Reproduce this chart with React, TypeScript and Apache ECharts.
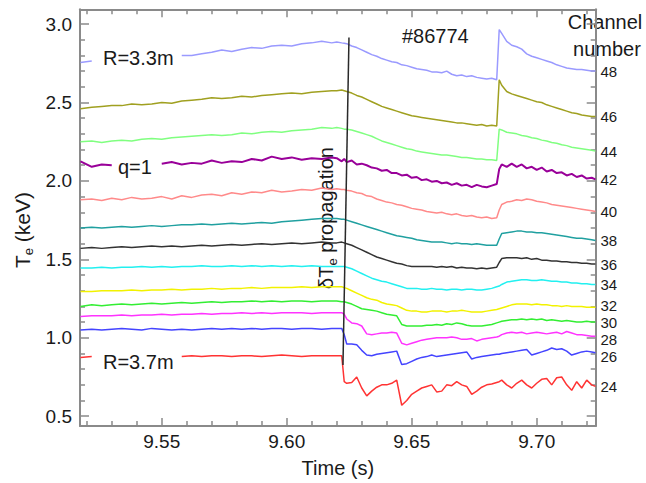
import React, { useEffect, useRef } from "react";
import * as echarts from "echarts";

// Time grid (s)
const time = [
  9.5175, 9.522, 9.526, 9.530, 9.534, 9.538, 9.542, 9.546, 9.550, 9.554, 9.558, 9.562, 9.566,
  9.570, 9.574, 9.578, 9.582, 9.586, 9.590, 9.594, 9.598, 9.602, 9.606, 9.610, 9.614, 9.618,
  9.620, 9.622, 9.623, 9.624, 9.626, 9.628, 9.630, 9.632, 9.634, 9.636,
  9.638, 9.640, 9.642, 9.644, 9.646, 9.648, 9.650, 9.652, 9.654, 9.656,
  9.658, 9.660, 9.662, 9.664, 9.666, 9.668, 9.670, 9.672, 9.674, 9.676,
  9.678, 9.680, 9.682, 9.684, 9.685, 9.686, 9.688, 9.690, 9.692, 9.694,
  9.696, 9.698, 9.700, 9.702, 9.704, 9.706, 9.708, 9.710, 9.712, 9.714,
  9.716, 9.718, 9.720, 9.722, 9.7235,
];

// Te (keV) per ECE channel
const ch48 = [
  2.755, 2.765, null, null, null, null, null, null, null, null, 2.80, 2.80, 2.81,
  2.82, 2.835, 2.825, 2.84, 2.85, 2.845, 2.86, 2.865, 2.86, 2.875, 2.88, 2.89, 2.88,
  2.885, 2.88, 2.878, 2.875, 2.86, 2.85, 2.835, 2.82, 2.805, 2.795,
  2.78, 2.77, 2.76, 2.755, 2.74, 2.735, 2.725, 2.715, 2.71, 2.705,
  2.695, 2.695, 2.69, 2.70, 2.68, 2.67, 2.675, 2.665, 2.67, 2.66,
  2.655, 2.65, 2.655, 2.645, 2.965, 2.94, 2.89, 2.865, 2.855, 2.84,
  2.81, 2.795, 2.785, 2.775, 2.765, 2.755, 2.74, 2.73, 2.72, 2.715,
  2.71, 2.71, 2.705, 2.70, 2.70,
];
const ch46 = [
  2.46, 2.47, 2.475, 2.48, 2.48, 2.49, 2.485, 2.49, 2.50, 2.495, 2.51, 2.515, 2.52,
  2.53, 2.525, 2.53, 2.54, 2.535, 2.545, 2.55, 2.555, 2.56, 2.555, 2.565, 2.57, 2.575,
  2.575, 2.58, 2.575, 2.57, 2.56, 2.545, 2.535, 2.52, 2.505, 2.49,
  2.475, 2.465, 2.455, 2.445, 2.435, 2.425, 2.415, 2.41, 2.405, 2.40,
  2.395, 2.39, 2.385, 2.38, 2.375, 2.37, 2.37, 2.365, 2.36, 2.355,
  2.36, 2.35, 2.355, 2.35, 2.645, 2.61, 2.57, 2.555, 2.545, 2.535,
  2.525, 2.515, 2.505, 2.50, 2.485, 2.475, 2.465, 2.455, 2.445, 2.435,
  2.43, 2.42, 2.415, 2.41, 2.41,
];
const ch44 = [
  2.25, 2.255, 2.245, 2.255, 2.26, 2.255, 2.265, 2.27, 2.265, 2.275, 2.28, 2.285, 2.29,
  2.295, 2.29, 2.295, 2.305, 2.30, 2.31, 2.315, 2.31, 2.32, 2.325, 2.33, 2.34, 2.335,
  2.34, 2.335, 2.33, 2.33, 2.325, 2.315, 2.305, 2.295, 2.285, 2.27,
  2.255, 2.245, 2.235, 2.225, 2.215, 2.205, 2.20, 2.19, 2.185, 2.18,
  2.175, 2.17, 2.165, 2.165, 2.16, 2.155, 2.15, 2.15, 2.145, 2.14,
  2.14, 2.135, 2.135, 2.13, 2.33, 2.325, 2.31, 2.305, 2.30, 2.29,
  2.285, 2.275, 2.27, 2.26, 2.255, 2.245, 2.24, 2.23, 2.225, 2.215,
  2.21, 2.205, 2.20, 2.195, 2.19,
];
const ch42 = [
  2.125, 2.09, 2.105, 2.10, null, null, null, null, 2.11, 2.12, 2.105, 2.115, 2.11,
  2.13, 2.115, 2.125, 2.12, 2.14, 2.13, 2.155, 2.14, 2.15, 2.135, 2.145, 2.14, 2.15,
  2.145, 2.125, 2.14, 2.12, 2.13, 2.105, 2.11, 2.10, 2.085, 2.08,
  2.065, 2.07, 2.05, 2.05, 2.035, 2.04, 2.02, 2.025, 2.005, 2.01,
  1.995, 2.00, 1.985, 1.99, 1.975, 1.985, 1.97, 1.975, 1.96, 1.975,
  1.965, 1.96, 1.97, 1.98, 2.075, 2.105, 2.09, 2.11, 2.09, 2.105,
  2.08, 2.09, 2.07, 2.085, 2.06, 2.07, 2.05, 2.055, 2.035, 2.045,
  2.025, 2.035, 2.015, 2.02, 2.01,
];
const ch40 = [
  1.88, 1.885, 1.875, 1.89, 1.88, 1.895, 1.885, 1.89, 1.90, 1.885, 1.905, 1.895, 1.91,
  1.915, 1.905, 1.925, 1.915, 1.93, 1.925, 1.94, 1.93, 1.935, 1.945, 1.94, 1.955, 1.945,
  1.95, 1.945, 1.945, 1.94, 1.935, 1.925, 1.92, 1.905, 1.90, 1.885,
  1.875, 1.865, 1.86, 1.85, 1.845, 1.835, 1.825, 1.82, 1.815, 1.805,
  1.80, 1.795, 1.80, 1.79, 1.785, 1.79, 1.78, 1.775, 1.78, 1.77,
  1.765, 1.77, 1.76, 1.765, 1.815, 1.85, 1.865, 1.87, 1.88, 1.875,
  1.885, 1.88, 1.87, 1.865, 1.86, 1.85, 1.845, 1.84, 1.835, 1.83,
  1.825, 1.82, 1.815, 1.81, 1.805,
];
const ch38 = [
  1.70, 1.705, 1.70, 1.705, 1.71, 1.705, 1.71, 1.715, 1.71, 1.715, 1.72, 1.72, 1.725,
  1.72, 1.725, 1.73, 1.725, 1.73, 1.735, 1.73, 1.74, 1.745, 1.75, 1.755, 1.76, 1.76,
  1.76, 1.755, 1.755, 1.75, 1.74, 1.73, 1.72, 1.71, 1.70, 1.69,
  1.68, 1.67, 1.66, 1.65, 1.645, 1.64, 1.635, 1.625, 1.62, 1.615,
  1.61, 1.61, 1.61, 1.605, 1.60, 1.605, 1.60, 1.60, 1.595, 1.60,
  1.595, 1.59, 1.59, 1.59, 1.63, 1.665, 1.67, 1.675, 1.68, 1.68,
  1.675, 1.675, 1.67, 1.67, 1.665, 1.66, 1.655, 1.65, 1.645, 1.64,
  1.635, 1.635, 1.63, 1.625, 1.62,
];
const ch36 = [
  1.57, 1.575, 1.57, 1.575, 1.58, 1.575, 1.58, 1.585, 1.58, 1.585, 1.58, 1.585, 1.59,
  1.585, 1.59, 1.595, 1.59, 1.595, 1.60, 1.595, 1.60, 1.605, 1.60, 1.605, 1.61, 1.605,
  1.605, 1.61, 1.605, 1.60, 1.59, 1.575, 1.56, 1.545, 1.53, 1.515,
  1.505, 1.495, 1.485, 1.475, 1.47, 1.46, 1.455, 1.455, 1.455, 1.455,
  1.455, 1.45, 1.455, 1.45, 1.455, 1.445, 1.45, 1.445, 1.445, 1.44,
  1.445, 1.44, 1.445, 1.45, 1.48, 1.505, 1.51, 1.51, 1.51, 1.505,
  1.51, 1.50, 1.505, 1.495, 1.495, 1.49, 1.49, 1.485, 1.485, 1.48,
  1.48, 1.475, 1.475, 1.47, 1.47,
];
const ch34 = [
  1.445, 1.445, 1.45, 1.445, 1.45, 1.45, 1.455, 1.45, 1.455, 1.45, 1.455, 1.455, 1.46,
  1.455, 1.455, 1.46, 1.455, 1.46, 1.455, 1.46, 1.455, 1.46, 1.455, 1.46, 1.455, 1.455,
  1.455, 1.455, 1.455, 1.45, 1.44, 1.425, 1.41, 1.395, 1.38, 1.37,
  1.36, 1.355, 1.345, 1.335, 1.325, 1.315, 1.315, 1.315, 1.31, 1.31,
  1.315, 1.31, 1.31, 1.305, 1.31, 1.31, 1.305, 1.31, 1.31, 1.305,
  1.305, 1.31, 1.315, 1.325, 1.33, 1.34, 1.355, 1.36, 1.365, 1.37,
  1.37, 1.365, 1.365, 1.37, 1.365, 1.36, 1.36, 1.355, 1.355, 1.35,
  1.35, 1.345, 1.345, 1.34, 1.34,
];
const ch32 = [
  1.295, 1.295, 1.30, 1.30, 1.30, 1.305, 1.30, 1.305, 1.305, 1.31, 1.305, 1.31, 1.31,
  1.315, 1.31, 1.315, 1.315, 1.32, 1.315, 1.32, 1.32, 1.32, 1.325, 1.32, 1.325, 1.325,
  1.325, 1.325, 1.32, 1.315, 1.30, 1.285, 1.27, 1.255, 1.245, 1.24,
  1.225, 1.215, 1.21, 1.205, 1.19, 1.175, 1.17, 1.17, 1.165, 1.165,
  1.17, 1.17, 1.17, 1.165, 1.17, 1.17, 1.175, 1.17, 1.165, 1.165,
  1.165, 1.17, 1.175, 1.18, 1.185, 1.19, 1.20, 1.21, 1.215, 1.215,
  1.215, 1.21, 1.215, 1.21, 1.21, 1.205, 1.205, 1.20, 1.205, 1.20,
  1.20, 1.20, 1.195, 1.195, 1.195,
];
const ch30 = [
  1.20, 1.21, 1.205, 1.21, 1.215, 1.21, 1.215, 1.22, 1.215, 1.22, 1.225, 1.22, 1.225,
  1.23, 1.225, 1.23, 1.23, 1.235, 1.23, 1.235, 1.23, 1.235, 1.235, 1.23, 1.235, 1.235,
  1.235, 1.23, 1.23, 1.225, 1.215, 1.20, 1.185, 1.18, 1.175, 1.17,
  1.16, 1.15, 1.145, 1.14, 1.085, 1.075, 1.075, 1.075, 1.075, 1.08,
  1.08, 1.085, 1.08, 1.09, 1.085, 1.095, 1.09, 1.08, 1.075, 1.075,
  1.075, 1.08, 1.085, 1.095, 1.10, 1.105, 1.11, 1.115, 1.115, 1.12,
  1.115, 1.12, 1.115, 1.12, 1.11, 1.115, 1.11, 1.105, 1.11, 1.105,
  1.10, 1.10, 1.105, 1.10, 1.10,
];
const ch28 = [
  1.135, 1.14, 1.14, 1.14, 1.145, 1.14, 1.145, 1.145, 1.15, 1.145, 1.15, 1.15, 1.155,
  1.15, 1.155, 1.155, 1.16, 1.155, 1.16, 1.155, 1.16, 1.16, 1.16, 1.155, 1.16, 1.16,
  1.16, 1.16, 1.15, 1.12, 1.095, 1.09, 1.075, 1.025, 1.02, 1.025,
  1.03, 1.03, 1.035, 1.03, 0.965, 0.955, 0.965, 0.975, 0.985, 0.99,
  0.995, 1.00, 1.00, 1.00, 1.005, 1.00, 0.99, 0.99, 0.995, 0.98,
  0.99, 0.995, 1.00, 1.005, 1.01, 1.02, 1.03, 1.035, 1.03, 1.035,
  1.025, 1.03, 1.035, 1.03, 1.025, 1.03, 1.035, 1.025, 1.04, 1.03,
  1.02, 1.02, 1.015, 1.01, 1.01,
];
const ch26 = [
  1.05, 1.055, 1.05, 1.055, 1.06, 1.055, 1.05, 1.06, 1.055, 1.05, 1.055, 1.05, 1.055,
  1.06, 1.055, 1.06, 1.055, 1.06, 1.055, 1.06, 1.06, 1.055, 1.06, 1.06, 1.055, 1.06,
  1.06, 1.06, 1.02, 0.96, 0.96, 0.955, 0.92, 0.89, 0.885, 0.895,
  0.90, 0.905, 0.91, 0.915, 0.83, 0.835, 0.85, 0.865, 0.875, 0.88,
  0.89, 0.88, 0.885, 0.89, 0.895, 0.90, 0.905, 0.91, 0.865, 0.875,
  0.88, 0.885, 0.89, 0.895, 0.895, 0.90, 0.905, 0.91, 0.915, 0.92,
  0.925, 0.89, 0.90, 0.91, 0.92, 0.935, 0.925, 0.93, 0.915, 0.89,
  0.90, 0.91, 0.915, 0.91, 0.905,
];
const ch24 = [
  0.875, 0.88, null, null, null, null, null, null, null, null, 0.88, 0.885, 0.88,
  0.885, 0.885, 0.88, 0.885, 0.885, 0.88, 0.885, 0.89, 0.885, 0.88, 0.885, 0.885, 0.885,
  0.885, 0.885, 0.72, 0.71, 0.715, 0.75, 0.68, 0.63, 0.66, 0.685,
  0.70, 0.70, 0.71, 0.73, 0.57, 0.60, 0.64, 0.66, 0.68, 0.69,
  0.70, 0.655, 0.66, 0.70, 0.695, 0.72, 0.70, 0.69, 0.64, 0.66,
  0.685, 0.70, 0.705, 0.715, 0.72, 0.73, 0.70, 0.68, 0.71, 0.73,
  0.70, 0.68, 0.71, 0.735, 0.74, 0.70, 0.745, 0.75, 0.70, 0.665,
  0.72, 0.68, 0.73, 0.70, 0.69,
];

const channelNames = ["48", "46", "44", "42", "40", "38", "36", "34", "32", "30", "28", "26", "24"];
const channelData = [ch48, ch46, ch44, ch42, ch40, ch38, ch36, ch34, ch32, ch30, ch28, ch26, ch24];
const channelColors = [
  "#9a9aff", "#a0a020", "#80ff80", "#990099", "#ff8a8a", "#20a0a0", "#333333",
  "#22f0f0", "#f2f200", "#33ee33", "#ff33ff", "#4444ff", "#ff3333",
];
// vertical nudge of crowded end labels (px)
const labelNudge = [0, 0, 0, 0, 0, 0, 0, 0, -2, 0, 3, 4, 0];

// propagation front (time, Te)
const frontTime = [9.6249, 9.6225];
const frontTe = [2.914, 0.826];

const xMajor = [9.55, 9.6, 9.65, 9.7];
const xMinor = [9.52, 9.53, 9.54, 9.56, 9.57, 9.58, 9.59, 9.61, 9.62, 9.63, 9.64, 9.66, 9.67, 9.68, 9.69, 9.71, 9.72];
const yMajor = [0.5, 1.0, 1.5, 2.0, 2.5, 3.0];
const yMinor = [0.6, 0.7, 0.8, 0.9, 1.1, 1.2, 1.3, 1.4, 1.6, 1.7, 1.8, 1.9, 2.1, 2.2, 2.3, 2.4, 2.6, 2.7, 2.8, 2.9];

const X_MIN = 9.5173;
const X_MAX = 9.7236;
const Y_MIN = 0.4377;
const Y_MAX = 3.094;

const FONT = '"Liberation Sans", Arial, Helvetica, sans-serif';
const AX = "#8a8a8a";
const TXT = "#1a1a1a";

function xAxisDef(position: string, ticks: number[], len: number, line: boolean, labels: boolean) {
  return {
    type: "value",
    position,
    min: X_MIN,
    max: X_MAX,
    axisLine: { show: line, onZero: false, lineStyle: { color: AX, width: 2 } },
    axisTick: { show: true, inside: true, length: len, customValues: ticks, lineStyle: { color: AX, width: 1.5 } },
    axisLabel: labels
      ? { show: true, customValues: xMajor, formatter: (v: number) => v.toFixed(2), color: TXT, fontSize: 19, fontFamily: FONT, margin: 6 }
      : { show: false },
    splitLine: { show: false },
    name: labels ? "Time (s)" : "",
    nameLocation: "middle",
    nameGap: 32,
    nameTextStyle: { color: TXT, fontSize: 20, fontFamily: FONT },
  };
}

function yAxisDef(position: string, ticks: number[], len: number, line: boolean, labels: boolean) {
  return {
    type: "value",
    position,
    min: Y_MIN,
    max: Y_MAX,
    axisLine: { show: line, onZero: false, lineStyle: { color: AX, width: 2 } },
    axisTick: { show: true, inside: true, length: len, customValues: ticks, lineStyle: { color: AX, width: 1.5 } },
    axisLabel: labels
      ? { show: true, customValues: yMajor, formatter: (v: number) => v.toFixed(1), color: TXT, fontSize: 19, fontFamily: FONT, margin: 8 }
      : { show: false },
    splitLine: { show: false },
  };
}

export default function App() {
  const ref = useRef<HTMLDivElement>(null);

  useEffect(() => {
    if (!ref.current) return;
    const chart = echarts.init(ref.current, undefined, { renderer: "svg" });

    const series: any[] = channelData.map((vals, i) => ({
      type: "line",
      name: channelNames[i],
      data: time.map((t, k) => [t, vals[k] === null ? "-" : vals[k]]),
      showSymbol: false,
      symbol: "none",
      connectNulls: false,
      silent: true,
      lineStyle: { color: channelColors[i], width: channelNames[i] === "42" ? 2 : 1.5 },
      endLabel: {
        show: true,
        formatter: channelNames[i],
        distance: 5,
        offset: [0, labelNudge[i]],
        color: TXT,
        fontSize: 15,
        fontFamily: FONT,
      },
      z: 2,
    }));

    series.push({
      type: "line",
      name: "front",
      data: frontTime.map((t, k) => [t, frontTe[k]]),
      showSymbol: false,
      symbol: "none",
      silent: true,
      lineStyle: { color: "#2a2a2a", width: 1.5 },
      z: 5,
    });

    const txt = (text: string, x: number, y: number, extra: any = {}) => ({
      type: "text",
      x,
      y,
      silent: true,
      style: { text, fill: TXT, fontSize: 20, fontFamily: FONT, align: "left", verticalAlign: "middle", ...extra },
    });

    chart.setOption({
      animation: false,
      backgroundColor: "#ffffff",
      grid: { left: 80, top: 9.3, right: 50.3, bottom: 51.3, containLabel: false },
      xAxis: [
        xAxisDef("bottom", xMajor, 8, true, true),
        xAxisDef("bottom", xMinor, 5, false, false),
        xAxisDef("top", xMajor, 8, true, false),
        xAxisDef("top", xMinor, 5, false, false),
      ],
      yAxis: [
        yAxisDef("left", yMajor, 9, true, true),
        yAxisDef("left", yMinor, 5, false, false),
        yAxisDef("right", yMajor, 9, true, false),
        yAxisDef("right", yMinor, 5, false, false),
      ],
      series,
      graphic: [
        txt("R=3.3m", 103, 58),
        txt("q=1", 118, 167),
        txt("R=3.7m", 103, 362),
        txt("#86774", 402, 36),
        txt("Channel", 605, 22, { align: "center" }),
        txt("number", 607, 49, { align: "center" }),
        {
          type: "text",
          x: 22,
          y: 230,
          rotation: Math.PI / 2,
          silent: true,
          style: {
            text: "{m|T}{s|e}{m| (keV)}",
            fill: TXT,
            align: "center",
            verticalAlign: "middle",
            rich: {
              m: { fontSize: 21, fontFamily: FONT, fill: TXT },
              s: { fontSize: 13, fontFamily: FONT, fill: TXT, padding: [12, 0, 0, 0] },
            },
          },
        },
        {
          type: "text",
          x: 326,
          y: 218,
          rotation: Math.PI / 2,
          silent: true,
          style: {
            text: "{m|δT}{s|e}{m| propagation}",
            fill: TXT,
            align: "center",
            verticalAlign: "middle",
            rich: {
              m: { fontSize: 20, fontFamily: FONT, fill: TXT },
              s: { fontSize: 13, fontFamily: FONT, fill: TXT, padding: [12, 0, 0, 0] },
            },
          },
        },
      ],
    });

    return () => {
      chart.dispose();
    };
  }, []);

  return (
    <div
      ref={ref}
      style={{ position: "fixed", left: 0, top: 0, width: 646, height: 483, background: "#fff" }}
    />
  );
}
